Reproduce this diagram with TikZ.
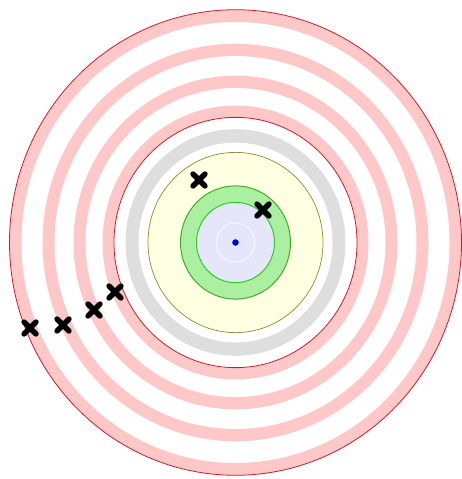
\documentclass[tikz,border=0pt]{standalone}
\definecolor{pinkband}{RGB}{255,200,200}
\definecolor{redline}{RGB}{200,30,40}
\definecolor{grayband}{RGB}{222,222,222}
\definecolor{yfill}{RGB}{255,255,225}
\definecolor{yline}{RGB}{140,140,50}
\definecolor{gfill}{RGB}{170,240,160}
\definecolor{gouter}{RGB}{70,170,40}
\definecolor{ginner}{RGB}{50,200,50}
\definecolor{lav}{RGB}{230,230,250}
\definecolor{bdot}{RGB}{0,0,230}
\newcommand{\ky}{1.03}
\tikzset{
  xm/.style={line width=5.4pt, line cap=round, black},
}
\begin{document}
\begin{tikzpicture}[x=1pt,y=-1pt]
\useasboundingbox (0,0) rectangle (461,479);
\fill[white] (0,0) rectangle (461,479);
\coordinate (c) at (235.5,242.5);
% pink striped zone
\fill[pinkband] (c) ellipse[x radius=226pt, y radius=226*\ky pt];
\fill[white] (c) ellipse[x radius=214pt, y radius=214*\ky pt];
\fill[pinkband] (c) ellipse[x radius=193pt, y radius=193*\ky pt];
\fill[white] (c) ellipse[x radius=181pt, y radius=181*\ky pt];
\fill[pinkband] (c) ellipse[x radius=162pt, y radius=162*\ky pt];
\fill[white] (c) ellipse[x radius=150pt, y radius=150*\ky pt];
\fill[pinkband] (c) ellipse[x radius=133pt, y radius=133*\ky pt];
\fill[white] (c) ellipse[x radius=121.5pt, y radius=121.5*\ky pt];
\draw[redline, line width=0.8pt] (c) ellipse[x radius=226pt, y radius=226*\ky pt];
\draw[redline, line width=0.8pt] (c) ellipse[x radius=121.5pt, y radius=121.5*\ky pt];
% gray band
\fill[grayband] (c) ellipse[x radius=110pt, y radius=110*\ky pt];
\fill[white] (c) ellipse[x radius=97pt, y radius=97*\ky pt];
% yellow disk
\filldraw[fill=yfill, draw=yline, line width=0.7pt] (c) ellipse[x radius=87.5pt, y radius=87.5*\ky pt];
% green ring
\filldraw[fill=gfill, draw=gouter, line width=1pt] (c) ellipse[x radius=55pt, y radius=55*\ky pt];
\filldraw[fill=lav, draw=ginner, line width=1pt] (c) ellipse[x radius=39pt, y radius=39*\ky pt];
\draw[white, line width=0.6pt] (c) ellipse[x radius=19pt, y radius=19*\ky pt];
\fill[bdot] (c) circle[radius=3.3pt];
% crosses
\coordinate (m1) at (199,180);
\coordinate (m2) at (263,210);
\coordinate (m3) at (115,292);
\coordinate (m4) at (94,310);
\coordinate (m5) at (63,325);
\coordinate (m6) at (30,328);
\foreach \m in {m1,m2,m3,m4,m5,m6}{
  \draw[xm] (\m) +(-6,-6) -- +(6,6) (\m) +(-6,6) -- +(6,-6);
}
\end{tikzpicture}
\end{document}
